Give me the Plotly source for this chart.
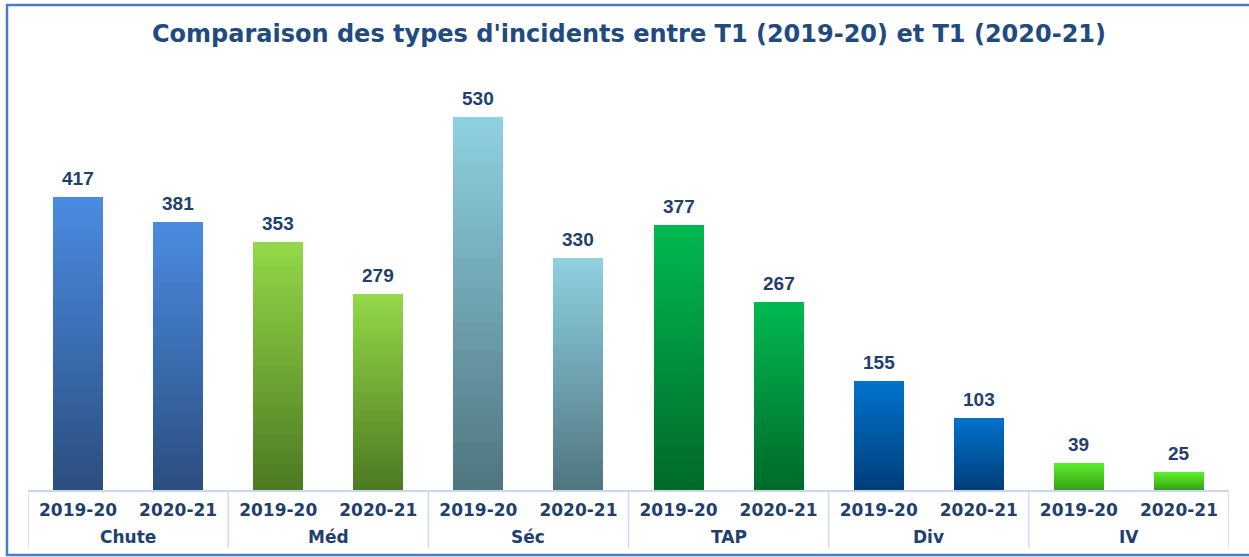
import plotly.graph_objects as go

categories = ["Chute", "Méd", "Séc", "TAP", "Div", "IV"]
periods = ["2019-20", "2020-21"]
values_2019 = [417, 353, 530, 377, 155, 39]
values_2020 = [381, 279, 330, 267, 103, 25]

# gradient colours per category: (top, bottom)
top_colors = [(74, 139, 224), (146, 216, 72), (142, 208, 224), (0, 184, 80), (0, 114, 204), (90, 240, 40)]
bottom_colors = [(44, 78, 128), (78, 122, 34), (80, 118, 128), (0, 106, 42), (0, 62, 122), (56, 160, 24)]

title = "Comparaison des types d'incidents entre T1 (2019-20) et T1 (2020-21)"

x_per = []
vals = []
tops = []
bots = []
for i, c in enumerate(categories):
    for p, v in zip(periods, (values_2019[i], values_2020[i])):
        x_per.append(p)
        vals.append(v)
        tops.append(top_colors[i])
        bots.append(bottom_colors[i])
xs = list(range(len(vals)))
nper = len(periods)

def mix(a, b, t):
    return "rgb(%d,%d,%d)" % tuple(round(a[j] + (b[j] - a[j]) * t) for j in range(3))

N = 40
label_color = "#1f3f6f"
fig = go.Figure()
for k in range(N):
    frac = (N - k) / N
    t = k / (N - 1)
    fig.add_trace(go.Bar(
        x=xs,
        y=[v * frac for v in vals],
        width=0.5,
        marker=dict(color=[mix(tp, bt, t) for tp, bt in zip(tops, bots)], line=dict(width=0)),
        hoverinfo="skip",
        showlegend=False,
    ))

L, R, T, B = 28, 20, 60, 67
W, H = 1249, 557
pw = W - L - R
ph = H - T - B

def px_x(x):
    return (x - L) / pw

def px_y(y):
    return (H - B - y) / ph

# value labels
for idx, v in zip(xs, vals):
    fig.add_annotation(x=idx, y=v, xref="x", yref="y", text=f"<b>{v}</b>",
                       showarrow=False, yanchor="bottom", yshift=6,
                       font=dict(family="Liberation Sans", size=19, color=label_color))

# group labels and dividers
for i, c in enumerate(categories):
    fig.add_annotation(x=i * nper + (nper - 1) / 2, y=px_y(537), xref="x", yref="paper",
                       text=f"<b>{c}</b>", showarrow=False, yanchor="middle",
                       font=dict(family="DejaVu Sans", size=17, color=label_color))
for i in range(len(categories) + 1):
    xb = i * nper - 0.5
    fig.add_shape(type="line", xref="x", yref="paper", x0=xb, x1=xb, y0=0, y1=px_y(548),
                  line=dict(color="#cfdcef", width=1.5))

fig.add_shape(type="rect", xref="paper", yref="paper",
              x0=px_x(7), x1=px_x(1265), y0=px_y(555), y1=px_y(5),
              line=dict(color="#4a7bcc", width=2.5), layer="below")

fig.update_layout(
    width=W, height=H,
    margin=dict(l=L, r=R, t=T, b=B),
    barmode="overlay",
    bargap=0,
    plot_bgcolor="white",
    paper_bgcolor="white",
    title=dict(text=f"<b>{title}</b>", x=629 / W, xanchor="center", y=1 - 34 / H, yanchor="middle",
               xref="container", yref="container",
               font=dict(family="DejaVu Sans", size=24, color="#214b80")),
    xaxis=dict(
        range=[-0.5, len(vals) - 0.5],
        tickmode="array", tickvals=xs, ticktext=x_per,
        showline=True, linecolor="#c8d7ee", linewidth=1.5,
        ticks="", showgrid=False, zeroline=False,
        tickfont=dict(family="DejaVu Sans", size=17, color=label_color, weight="bold"),
        ticklabelstandoff=4,
        automargin=False, fixedrange=True,
    ),
    yaxis=dict(visible=False, range=[0, 611], showgrid=False, zeroline=False, fixedrange=True),
)

fig.write_html("out.html", config={"displayModeBar": False},
               post_script="document.body.style.margin='0';")
